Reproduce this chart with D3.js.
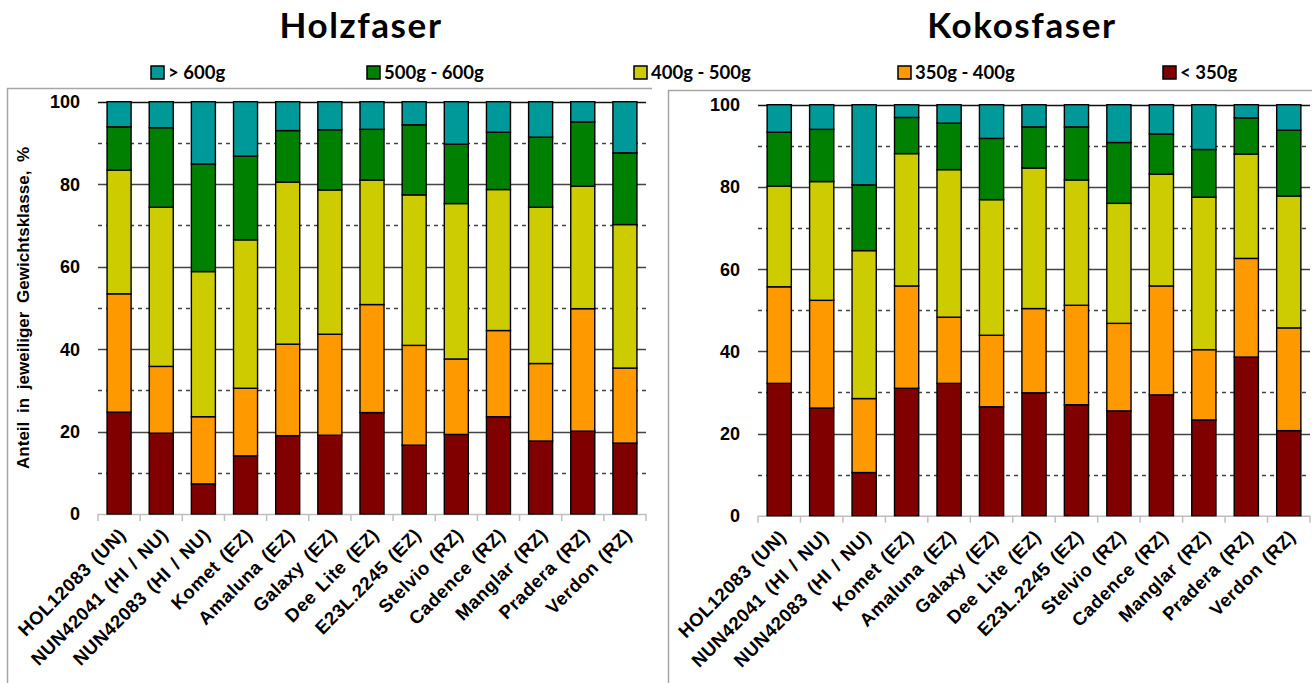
<!DOCTYPE html>
<html lang="de">
<head>
<meta charset="utf-8">
<title>Gewichtsklassen Holzfaser / Kokosfaser</title>
<style>
  body { margin: 0; background: #fff; }
  svg { display: block; }
  .tick-lbl { font-family: Arial, "Liberation Sans", sans-serif; font-weight: bold; font-size: 18px; fill: #000; }
  .cat-lbl { font-family: Arial, "Liberation Sans", sans-serif; font-weight: bold; font-size: 18.5px; fill: #000; letter-spacing: 0.5px; word-spacing: 2px; }
  .title { font-family: Lato, "Open Sans", sans-serif; font-weight: bold; font-size: 35px; letter-spacing: 1.6px; }
  .legend-lbl { font-family: Lato, "Open Sans", sans-serif; font-weight: bold; font-size: 18.5px; }
</style>
</head>
<body>
<svg id="chart" width="1312" height="683"></svg>
<script src="https://d3js.org/d3.v7.min.js"></script>
<script>
"use strict";

// Sorten
var categories = ["HOL12083 (UN)", "NUN42041 (HI / NU)", "NUN42083 (HI / NU)", "Komet (EZ)",
  "Amaluna (EZ)", "Galaxy (EZ)", "Dee Lite (EZ)", "E23L.2245 (EZ)", "Stelvio (RZ)",
  "Cadence (RZ)", "Manglar (RZ)", "Pradera (RZ)", "Verdon (RZ)"];

// Gewichtsklassen, von unten nach oben gestapelt
var classes = ["< 350g", "350g - 400g", "400g - 500g", "500g - 600g", "> 600g"];
var classColors = ["#800000", "#ff9900", "#cccc00", "#008000", "#009999"];

// Holzfaser, Anteil in %
var holzLt350   = [24.7, 19.6, 7.3, 14.1, 19.0, 19.1, 24.6, 16.7, 19.3, 23.6, 17.7, 20.1, 17.2];
var holz350_400 = [28.7, 16.2, 16.3, 16.4, 22.2, 24.5, 26.2, 24.2, 18.3, 20.9, 18.8, 29.7, 18.2];
var holz400_500 = [30.0, 38.6, 35.2, 36.0, 39.3, 35.0, 30.2, 36.5, 37.7, 34.2, 37.9, 29.7, 34.8];
var holz500_600 = [10.5, 19.3, 26.1, 20.3, 12.5, 14.6, 12.3, 17.0, 14.4, 13.9, 17.0, 15.6, 17.4];
var holzGt600   = [6.1, 6.3, 15.1, 13.2, 7.0, 6.8, 6.7, 5.6, 10.3, 7.4, 8.6, 4.9, 12.4];

// Kokosfaser, Anteil in %
var kokoLt350   = [32.2, 26.2, 10.5, 31.0, 32.2, 26.5, 29.9, 27.0, 25.5, 29.4, 23.3, 38.6, 20.7];
var koko350_400 = [23.5, 26.2, 18.0, 24.9, 16.1, 17.4, 20.5, 24.2, 21.3, 26.5, 17.1, 24.0, 25.0];
var koko400_500 = [24.5, 28.9, 36.0, 32.2, 35.9, 33.0, 34.2, 30.5, 29.2, 27.2, 37.1, 25.4, 32.1];
var koko500_600 = [13.1, 12.7, 16.0, 8.8, 11.3, 14.9, 10.0, 12.9, 14.8, 9.8, 11.6, 8.8, 16.0];
var kokoGt600   = [6.7, 6.0, 19.5, 3.1, 4.5, 8.2, 5.4, 5.4, 9.2, 7.1, 10.9, 3.2, 6.2];

var yTicks = [0, 20, 40, 60, 80, 100];
var yMinor = [10, 30, 50, 70, 90];

function toRows(series) {
  return categories.map(function(c, i) {
    var row = { cat: c };
    classes.forEach(function(k, j) { row[k] = series[j][i]; });
    return row;
  });
}

var svg = d3.select("#chart");

// Rahmen (Screenshot-Ausschnitte)
svg.append("path").attr("d", "M7.5,683 V88.5 H652").attr("fill", "none").attr("stroke", "#a6a6a6").attr("stroke-width", 1.5);
svg.append("path").attr("d", "M668.5,683 V90.5 H1312").attr("fill", "none").attr("stroke", "#a6a6a6").attr("stroke-width", 1.5);

var panels = [
  { title: "Holzfaser", titleX: 361, x0: 98, x1: 646, yBottom: 514, yTop: 101.7, axisTitle: true,
    series: [holzLt350, holz350_400, holz400_500, holz500_600, holzGt600] },
  { title: "Kokosfaser", titleX: 1022, x0: 758, x1: 1310, yBottom: 515.7, yTop: 104.7, axisTitle: false,
    series: [kokoLt350, koko350_400, koko400_500, koko500_600, kokoGt600] }
];

panels.forEach(function(p) {
  var g = svg.append("g");
  var x = d3.scaleBand().domain(categories).range([p.x0, p.x1]).paddingInner(0.43).paddingOuter(0.215);
  var y = d3.scaleLinear().domain([0, 100]).range([p.yBottom, p.yTop]);

  g.append("text").attr("class", "title").attr("x", p.titleX).attr("y", 38)
    .attr("text-anchor", "middle").text(p.title);

  // Hilfslinien
  g.selectAll("line.minor").data(yMinor).enter().append("line")
    .attr("x1", p.x0).attr("x2", p.x1)
    .attr("y1", function(d) { return Math.round(y(d)) + 0.5; })
    .attr("y2", function(d) { return Math.round(y(d)) + 0.5; })
    .attr("stroke", "#444").attr("stroke-width", 1.6).attr("stroke-dasharray", "4,4");
  g.selectAll("line.major").data(yTicks.slice(1)).enter().append("line")
    .attr("x1", p.x0).attr("x2", p.x1)
    .attr("y1", function(d) { return Math.round(y(d)) + 0.5; })
    .attr("y2", function(d) { return Math.round(y(d)) + 0.5; })
    .attr("stroke", function(d) { return d === 100 ? "#111" : "#444"; }).attr("stroke-width", 1.3);

  // x-Achse mit Teilstrichen zwischen den Kategorien
  var step = x.step();
  g.append("line").attr("x1", p.x0).attr("x2", p.x1)
    .attr("y1", y(0) + 0.5).attr("y2", y(0) + 0.5).attr("stroke", "#bfbfbf").attr("stroke-width", 1.5);
  g.selectAll("line.xt").data(d3.range(categories.length + 1)).enter().append("line")
    .attr("x1", function(i) { return p.x0 + i * step; })
    .attr("x2", function(i) { return p.x0 + i * step; })
    .attr("y1", y(0)).attr("y2", y(0) + 7)
    .attr("stroke", "#bfbfbf").attr("stroke-width", 1.5);

  // gestapelte Balken
  var stacked = d3.stack().keys(classes)(toRows(p.series));
  g.selectAll("g.layer").data(stacked).enter().append("g")
    .attr("fill", function(d, i) { return classColors[i]; })
    .selectAll("rect").data(function(d) { return d; }).enter().append("rect")
    .attr("x", function(d) { return x(d.data.cat); })
    .attr("width", x.bandwidth())
    .attr("y", function(d) { return y(d[1]); })
    .attr("height", function(d) { return y(d[0]) - y(d[1]); })
    .attr("stroke", "#000").attr("stroke-width", 1.4);

  // y-Beschriftung
  g.selectAll("text.yl").data(yTicks).enter().append("text")
    .attr("class", "tick-lbl").attr("x", p.x0 - 18).attr("y", function(d) { return y(d); })
    .attr("dy", "0.36em").attr("text-anchor", "end").text(function(d) { return d; });

  // Kategorien, 45° gedreht
  g.selectAll("text.cl").data(categories).enter().append("text")
    .attr("class", "cat-lbl").attr("text-anchor", "end")
    .attr("transform", function(d) {
      return "translate(" + (x(d) + x.bandwidth() / 2 + 8) + "," + (y(0) + 22) + ") rotate(-45)";
    })
    .text(function(d) { return d; });

  if (p.axisTitle) {
    g.append("text").attr("class", "tick-lbl")
      .style("font-size", "17px").style("word-spacing", "4px")
      .attr("transform", "translate(29," + ((p.yBottom + p.yTop) / 2) + ") rotate(-90)")
      .attr("text-anchor", "middle").text("Anteil in jeweiliger Gewichtsklasse, %");
  }
});

// Legende
var legendX = [151, 367, 634, 898, 1163];
var legendItems = classes.slice().reverse();
var legendColors = classColors.slice().reverse();
var lg = svg.append("g").selectAll("g").data(legendItems).enter().append("g")
  .attr("transform", function(d, i) { return "translate(" + legendX[i] + ",66)"; });
lg.append("rect").attr("width", 13).attr("height", 13)
  .attr("fill", function(d, i) { return legendColors[i]; })
  .attr("stroke", "#000").attr("stroke-width", 1.5);
lg.append("text").attr("class", "legend-lbl").attr("x", 17).attr("y", 13).text(function(d) { return d; });
</script>
</body>
</html>
